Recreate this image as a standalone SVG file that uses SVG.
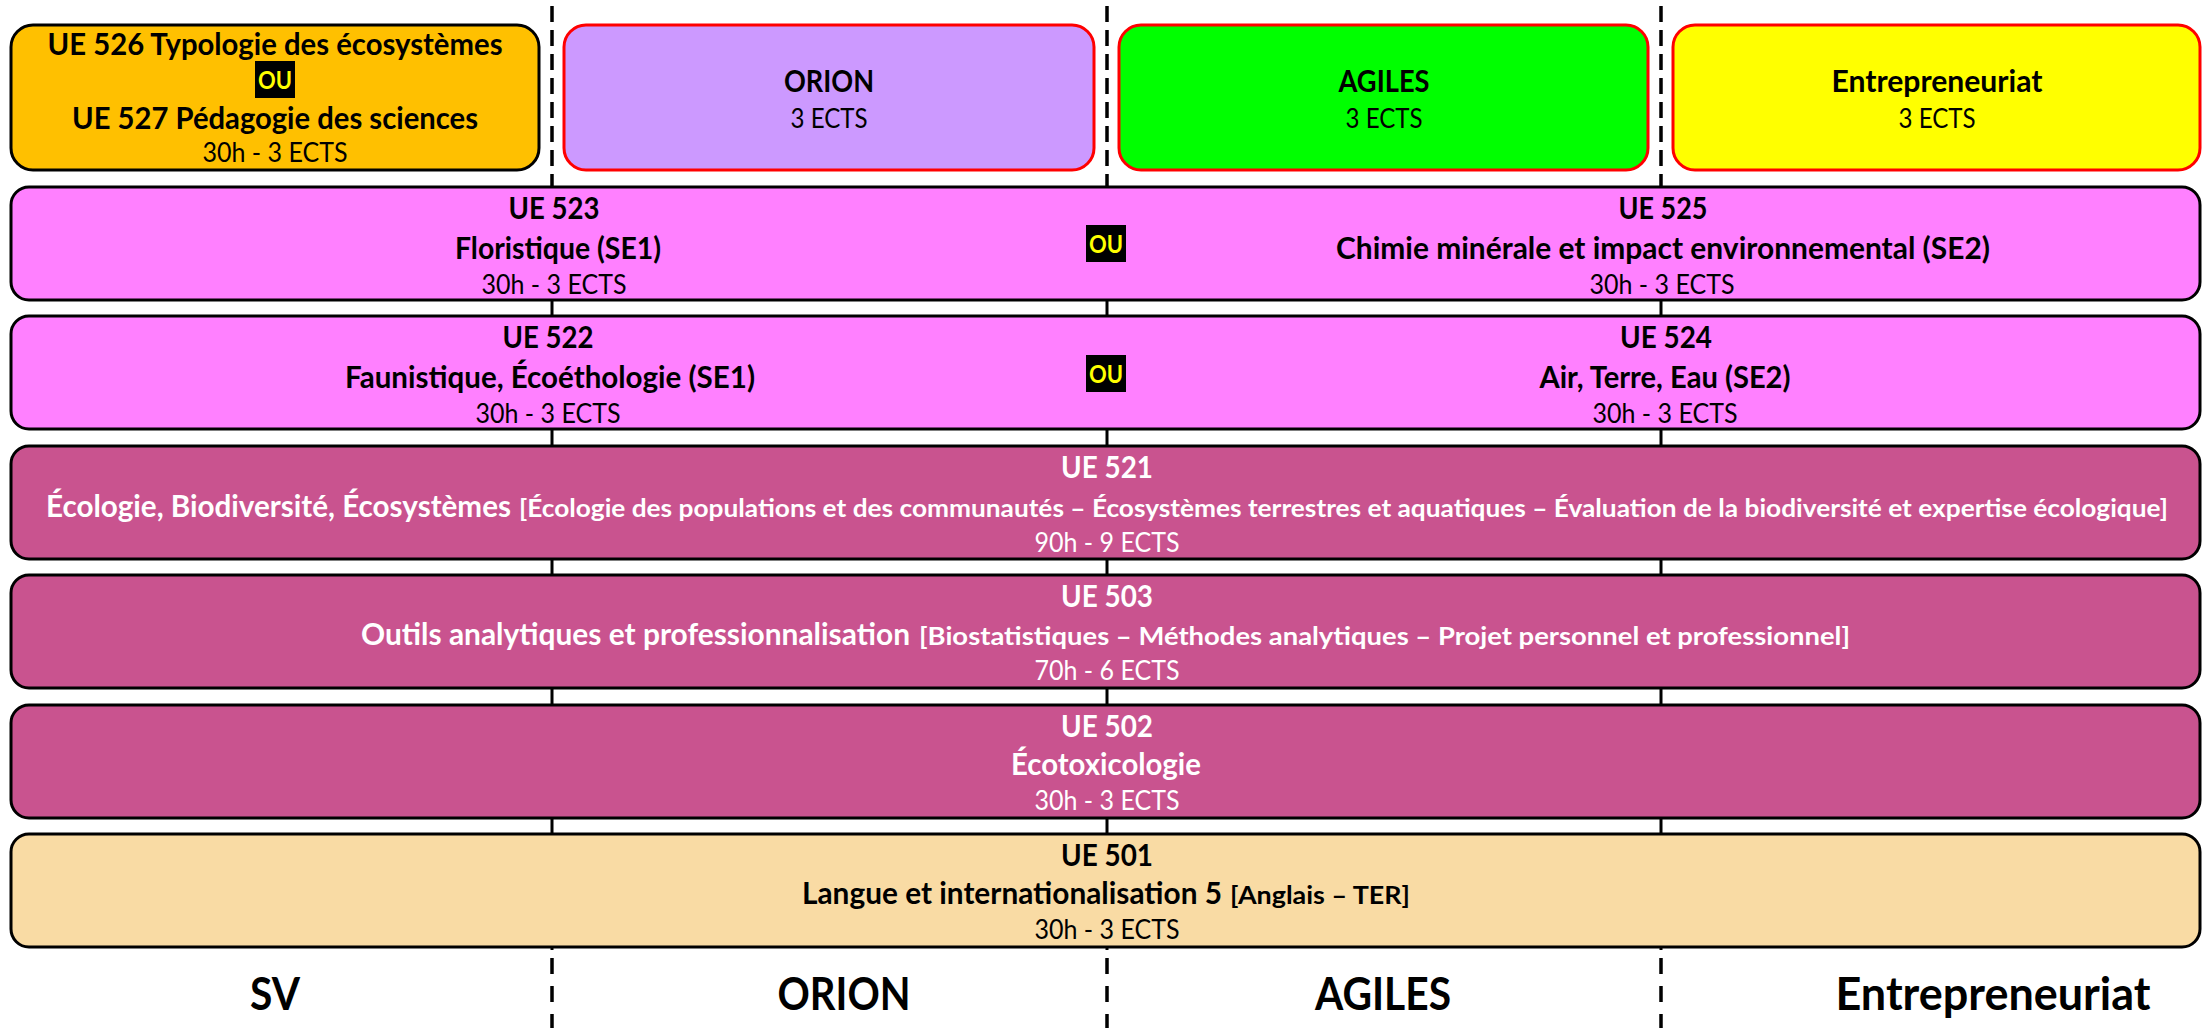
<svg xmlns="http://www.w3.org/2000/svg" width="2203" height="1028" viewBox="0 0 2203 1028">
<style>
text{font-family:Lato,"Open Sans","Liberation Sans",sans-serif;text-anchor:middle}
.b{font-weight:700;font-size:30px}
.r{font-weight:400;font-size:27px}
.s{font-weight:700;font-size:24px;text-anchor:start}
.bs{font-weight:700;font-size:30px;text-anchor:start}
.w{fill:#fff}
.top{stroke-width:3}
.row{stroke:#000;stroke-width:3}
.ou{fill:#000}
.out{font-weight:700;font-size:25px;fill:#FFFF00}
.lbl{font-weight:700;font-size:45px}
.sep{stroke:#000;stroke-width:3.5;fill:none}
</style>
<rect width="2203" height="1028" fill="#fff"/>
<g id="separators">
<line class="sep" x1="552" y1="6" x2="552" y2="188" stroke-dasharray="16 8"/>
<line class="sep" x1="1107" y1="6" x2="1107" y2="188" stroke-dasharray="16 8"/>
<line class="sep" x1="1661" y1="6" x2="1661" y2="188" stroke-dasharray="16 8"/>
<line x1="552" y1="188" x2="552" y2="950" stroke="#000" stroke-width="3"/>
<line x1="1107" y1="188" x2="1107" y2="950" stroke="#000" stroke-width="3"/>
<line x1="1661" y1="188" x2="1661" y2="950" stroke="#000" stroke-width="3"/>
<line class="sep" x1="552" y1="958" x2="552" y2="1028" stroke-dasharray="16 12"/>
<line class="sep" x1="1107" y1="958" x2="1107" y2="1028" stroke-dasharray="16 12"/>
<line class="sep" x1="1661" y1="958" x2="1661" y2="1028" stroke-dasharray="16 12"/>
</g>
<g id="ue526">
<rect x="11" y="25" width="528" height="145" rx="22" fill="#FFC000" stroke="#000" class="top"/>
<text class="b" x="275" y="55" textLength="455" lengthAdjust="spacingAndGlyphs">UE 526 Typologie des écosystèmes</text>
<rect class="ou" x="255" y="61" width="40" height="37"/>
<text class="out" x="275" y="89" textLength="34" lengthAdjust="spacingAndGlyphs">OU</text>
<text class="b" x="275" y="129" textLength="406" lengthAdjust="spacingAndGlyphs">UE 527 Pédagogie des sciences</text>
<text class="r" x="275" y="162" textLength="145" lengthAdjust="spacingAndGlyphs">30h - 3 ECTS</text>
</g>
<g id="orion">
<rect x="564" y="25" width="530" height="145" rx="22" fill="#CC99FF" stroke="#FF0000" class="top"/>
<text class="b" x="829" y="92" textLength="90" lengthAdjust="spacingAndGlyphs">ORION</text>
<text class="r" x="829" y="128" textLength="77" lengthAdjust="spacingAndGlyphs">3 ECTS</text>
</g>
<g id="agiles">
<rect x="1119" y="25" width="529" height="145" rx="22" fill="#00FF00" stroke="#FF0000" class="top"/>
<text class="b" x="1384" y="92" textLength="91" lengthAdjust="spacingAndGlyphs">AGILES</text>
<text class="r" x="1384" y="128" textLength="77" lengthAdjust="spacingAndGlyphs">3 ECTS</text>
</g>
<g id="entrepreneuriat">
<rect x="1673" y="25" width="527" height="145" rx="22" fill="#FFFF00" stroke="#FF0000" class="top"/>
<text class="b" x="1937" y="92" textLength="211" lengthAdjust="spacingAndGlyphs">Entrepreneuriat</text>
<text class="r" x="1937" y="128" textLength="77" lengthAdjust="spacingAndGlyphs">3 ECTS</text>
</g>
<g id="ue523-525">
<rect class="row" x="11" y="187" width="2189" height="113" rx="18" fill="#FF80FF"/>
<text class="b" x="554" y="219" textLength="91" lengthAdjust="spacingAndGlyphs">UE 523</text>
<text class="b" x="558" y="259" textLength="206" lengthAdjust="spacingAndGlyphs">Floristique (SE1)</text>
<text class="r" x="554" y="294" textLength="145" lengthAdjust="spacingAndGlyphs">30h - 3 ECTS</text>
<rect class="ou" x="1086" y="225" width="40" height="37"/>
<text class="out" x="1106" y="253" textLength="34" lengthAdjust="spacingAndGlyphs">OU</text>
<text class="b" x="1663" y="219" textLength="89" lengthAdjust="spacingAndGlyphs">UE 525</text>
<text class="b" x="1663" y="259" textLength="654" lengthAdjust="spacingAndGlyphs">Chimie minérale et impact environnemental (SE2)</text>
<text class="r" x="1662" y="294" textLength="145" lengthAdjust="spacingAndGlyphs">30h - 3 ECTS</text>
</g>
<g id="ue522-524">
<rect class="row" x="11" y="316" width="2189" height="113" rx="18" fill="#FF80FF"/>
<text class="b" x="548" y="348" textLength="91" lengthAdjust="spacingAndGlyphs">UE 522</text>
<text class="b" x="550" y="388" textLength="410" lengthAdjust="spacingAndGlyphs">Faunistique, Écoéthologie (SE1)</text>
<text class="r" x="548" y="423" textLength="145" lengthAdjust="spacingAndGlyphs">30h - 3 ECTS</text>
<rect class="ou" x="1086" y="355" width="40" height="37"/>
<text class="out" x="1106" y="383" textLength="34" lengthAdjust="spacingAndGlyphs">OU</text>
<text class="b" x="1666" y="348" textLength="92" lengthAdjust="spacingAndGlyphs">UE 524</text>
<text class="b" x="1665" y="388" textLength="251" lengthAdjust="spacingAndGlyphs">Air, Terre, Eau (SE2)</text>
<text class="r" x="1665" y="423" textLength="145" lengthAdjust="spacingAndGlyphs">30h - 3 ECTS</text>
</g>
<g id="ue521">
<rect class="row" x="11" y="446" width="2189" height="113" rx="18" fill="#C9538F"/>
<text class="b w" x="1107" y="478" textLength="92" lengthAdjust="spacingAndGlyphs">UE 521</text>
<text class="bs w" x="46" y="517" textLength="465" lengthAdjust="spacingAndGlyphs">Écologie, Biodiversité, Écosystèmes</text>
<text class="s w" x="519" y="517" textLength="1649" lengthAdjust="spacingAndGlyphs">[Écologie des populations et des communautés – Écosystèmes terrestres et aquatiques – Évaluation de la biodiversité et expertise écologique]</text>
<text class="r w" x="1107" y="552" textLength="145" lengthAdjust="spacingAndGlyphs">90h - 9 ECTS</text>
</g>
<g id="ue503">
<rect class="row" x="11" y="575" width="2189" height="113" rx="18" fill="#C9538F"/>
<text class="b w" x="1107" y="607" textLength="92" lengthAdjust="spacingAndGlyphs">UE 503</text>
<text class="bs w" x="361" y="645" textLength="549" lengthAdjust="spacingAndGlyphs">Outils analytiques et professionnalisation</text>
<text class="s w" x="919" y="645" textLength="931" lengthAdjust="spacingAndGlyphs">[Biostatistiques – Méthodes analytiques – Projet personnel et professionnel]</text>
<text class="r w" x="1107" y="680" textLength="145" lengthAdjust="spacingAndGlyphs">70h - 6 ECTS</text>
</g>
<g id="ue502">
<rect class="row" x="11" y="705" width="2189" height="113" rx="18" fill="#C9538F"/>
<text class="b w" x="1107" y="737" textLength="92" lengthAdjust="spacingAndGlyphs">UE 502</text>
<text class="b w" x="1106" y="775" textLength="190" lengthAdjust="spacingAndGlyphs">Écotoxicologie</text>
<text class="r w" x="1107" y="810" textLength="145" lengthAdjust="spacingAndGlyphs">30h - 3 ECTS</text>
</g>
<g id="ue501">
<rect class="row" x="11" y="834" width="2189" height="113" rx="18" fill="#F9DBA4"/>
<text class="b" x="1107" y="866" textLength="92" lengthAdjust="spacingAndGlyphs">UE 501</text>
<text class="bs" x="802" y="904" textLength="420" lengthAdjust="spacingAndGlyphs">Langue et internationalisation 5</text>
<text class="s" x="1230" y="904" textLength="180" lengthAdjust="spacingAndGlyphs">[Anglais – TER]</text>
<text class="r" x="1107" y="939" textLength="145" lengthAdjust="spacingAndGlyphs">30h - 3 ECTS</text>
</g>
<g id="labels">
<text class="lbl" x="275" y="1010" textLength="50" lengthAdjust="spacingAndGlyphs">SV</text>
<text class="lbl" x="844" y="1010" textLength="133" lengthAdjust="spacingAndGlyphs">ORION</text>
<text class="lbl" x="1383" y="1010" textLength="136" lengthAdjust="spacingAndGlyphs">AGILES</text>
<text class="lbl" x="1993" y="1010" textLength="315" lengthAdjust="spacingAndGlyphs">Entrepreneuriat</text>
</g>
</svg>
